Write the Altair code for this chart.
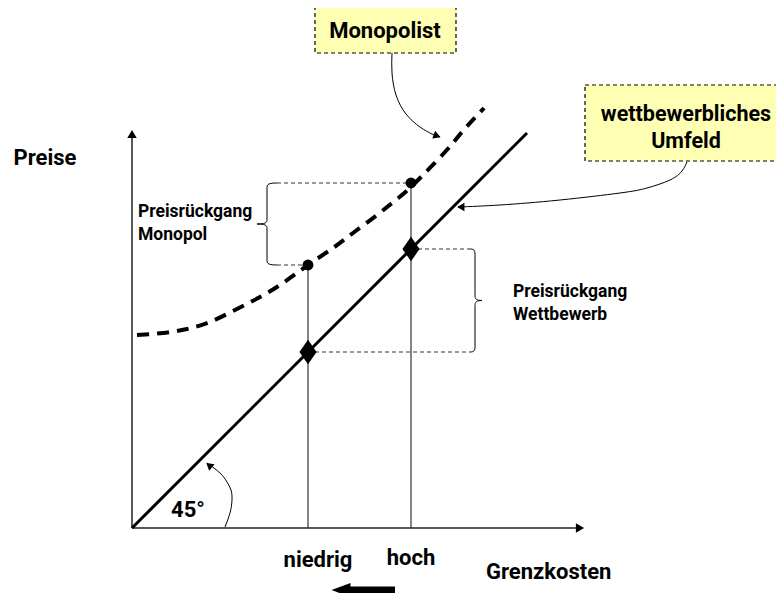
import altair as alt
import pandas as pd

# ---------------- values (chart units; origin = crossing of the axes) ----------------
# x = Grenzkosten, y = Preise
cost_levels = [176, 279]                  # niedrig, hoch
cost_labels = ["niedrig", "hoch"]
comp_prices = [176, 279]                  # wettbewerbliches Umfeld: Preis = Grenzkosten (45°)
mono_prices = [263, 345]                  # Monopolist

comp_line_x = [0, 395]
comp_line_y = [0, 395]

mono_curve_x = [5, 31, 55, 78, 103, 128, 151, 176, 201, 221, 245, 265, 281, 313, 330, 352]
mono_curve_y = [193, 195, 199, 206, 218, 231, 245, 263, 280, 295, 313, 329, 343, 376, 396, 420]

axis_x_end = [446]
axis_y_end = [392]

# annotation anchors
brace_mono_x = [135]
brace_mono_x_end = [145]
brace_comp_x = [343]
brace_comp_x_end = [338]

label_mono_xy = [(6, 316), (6, 293)]
label_mono_txt = ["Preisrückgang", "Monopol"]
label_comp_xy = [(381, 236), (381, 213)]
label_comp_txt = ["Preisrückgang", "Wettbewerb"]

box_mono = [183, 324, 475, 521]           # x, x2, y, y2
box_mono_txt = ["Monopolist"]
box_mono_txt_xy = [(253, 497)]
box_comp = [453, 660, 367, 443]
box_comp_txt = ["wettbewerbliches", "Umfeld"]
box_comp_txt_xy = [(554, 413), (554, 386)]

arrow_mono_x = [260, 260, 264, 274, 288, 300, 308]
arrow_mono_y = [475, 455, 433, 414, 401, 394, 391]
arrow_comp_x = [555, 550, 538, 515, 488, 428, 368, 326]
arrow_comp_y = [366, 357, 348, 340, 335, 328, 323, 321]
arc45_x = [93, 98, 100, 99, 95, 88, 75]
arc45_y = [1, 15, 28, 38, 46, 55, 65]

axis_titles = ["Preise", "Grenzkosten"]
axis_titles_xy = [(-87, 370), (354, -44)]
cost_labels_xy = [(186, -32), (279, -30)]
angle_label = ["45°"]
angle_label_xy = [(56, 18)]
shift_arrow_x = [263, 215]
shift_arrow_y = [-62, -62]

# ---------------- chart ----------------
FONT = "Roboto, Liberation Sans, sans-serif"
XS = alt.Scale(domain=[-124, 644], nice=False, zero=False)
YS = alt.Scale(domain=[-65, 520], nice=False, zero=False)
X = alt.X("x:Q", scale=XS, axis=None)
Y = alt.Y("y:Q", scale=YS, axis=None)


def line(xs, ys, **mark):
    df = pd.DataFrame({"x": xs, "y": ys, "i": list(range(len(xs)))})
    return alt.Chart(df).mark_line(**mark).encode(x=X, y=Y, order="i:Q")


def pts(xs, ys, **mark):
    df = pd.DataFrame({"x": xs, "y": ys})
    return alt.Chart(df).mark_point(**mark).encode(x=X, y=Y)


def texts(xy, txt, **mark):
    df = pd.DataFrame({"x": [p[0] for p in xy], "y": [p[1] for p in xy], "t": txt})
    return alt.Chart(df).mark_text(font=FONT, fontWeight="bold", color="black",
                                   baseline="middle", **mark).encode(x=X, y=Y, text="t:N")


def box(b, **mark):
    df = pd.DataFrame({"x": [b[0]], "x2": [b[1]], "y": [b[2]], "y2": [b[3]]})
    return alt.Chart(df).mark_rect(**mark).encode(x=X, x2="x2:Q", y=Y, y2="y2:Q")


def brace_path(end, tip):
    # vertical curly brace, spine at x=0, ends at x=end, point at x=tip
    return (f"M{end},-1 C{end*0.2},-1 0,-0.97 0,-0.9 L0,-0.1 C0,-0.03 {tip*0.2},0 {tip},0 "
            f"C{tip*0.2},0 0,0.03 0,0.1 L0,0.9 C0,0.97 {end*0.2},1 {end},1")


layers = []

# boxes
layers.append(box(box_mono, fill="#ffffb4", stroke="black", strokeDash=[4, 3], strokeWidth=1.2))
layers.append(box(box_comp, fill="#ffffb4", stroke="black", strokeDash=[4, 3], strokeWidth=1.2))

# axes
layers.append(line([0, 0], [0, axis_y_end[0]], color="#222", strokeWidth=1.5))
layers.append(line([0, axis_x_end[0]], [0, 0], color="#222", strokeWidth=1.5))
layers.append(pts([0], [axis_y_end[0] + 2], shape="triangle-up", size=90, filled=True, color="black", opacity=1))
layers.append(pts([axis_x_end[0] + 2], [0], shape="triangle-right", size=90, filled=True, color="black", opacity=1))

# verticals at cost levels
for c, p in zip(cost_levels, mono_prices):
    layers.append(line([c, c], [0, p], color="#333", strokeWidth=1.2))

# dotted guides
span_m = mono_prices[1] - mono_prices[0]
span_c = comp_prices[1] - comp_prices[0]
layers.append(line([brace_mono_x_end[0], cost_levels[1]], [mono_prices[1]] * 2, color="#333", strokeWidth=1, strokeDash=[4, 3]))
layers.append(line([brace_mono_x_end[0], cost_levels[0]], [mono_prices[0]] * 2, color="#333", strokeWidth=1, strokeDash=[4, 3]))
layers.append(line([cost_levels[1], brace_comp_x_end[0]], [comp_prices[1]] * 2, color="#333", strokeWidth=1, strokeDash=[4, 3]))
layers.append(line([cost_levels[0], brace_comp_x_end[0]], [comp_prices[0]] * 2, color="#333", strokeWidth=1, strokeDash=[4, 3]))

# braces
layers.append(pts(brace_mono_x, [(mono_prices[0] + mono_prices[1]) / 2],
                  shape=brace_path((brace_mono_x_end[0] - brace_mono_x[0]) / (span_m / 2), -10 / (span_m / 2)),
                  size=span_m ** 2, filled=False, color="black", strokeWidth=1, opacity=1))
layers.append(pts(brace_comp_x, [(comp_prices[0] + comp_prices[1]) / 2],
                  shape=brace_path((brace_comp_x_end[0] - brace_comp_x[0]) / (span_c / 2), 7 / (span_c / 2)),
                  size=span_c ** 2, filled=False, color="black", strokeWidth=1, opacity=1))

# curves
layers.append(line(comp_line_x, comp_line_y, color="black", strokeWidth=3))
layers.append(line(mono_curve_x, mono_curve_y, color="black", strokeWidth=4, strokeDash=[12, 8],
                   interpolate="natural"))

# markers
layers.append(pts(cost_levels, mono_prices, shape="circle", size=120, filled=True, color="black", opacity=1))
layers.append(pts(cost_levels, comp_prices, shape="M0,-1L0.7,0L0,1L-0.7,0Z", size=600, filled=True,
                  color="black", opacity=1))

# annotation arrows
layers.append(line(arrow_mono_x, arrow_mono_y, color="black", strokeWidth=1, interpolate="natural"))
layers.append(pts([arrow_mono_x[-1] - 4], [arrow_mono_y[-1] + 1.5], shape="triangle", angle=110, size=70,
                  filled=True, color="black", opacity=1))
layers.append(line(arrow_comp_x, arrow_comp_y, color="black", strokeWidth=1, interpolate="natural"))
layers.append(pts([arrow_comp_x[-1] + 4], [arrow_comp_y[-1]], shape="triangle", angle=270, size=70,
                  filled=True, color="black", opacity=1))
layers.append(line(arc45_x, arc45_y, color="black", strokeWidth=1, interpolate="natural"))
layers.append(pts([arc45_x[-1] + 3], [arc45_y[-1] - 3], shape="triangle", angle=310, size=70,
                  filled=True, color="black", opacity=1))

# shift arrow (Grenzkosten sinken)
layers.append(line(shift_arrow_x, shift_arrow_y, color="black", strokeWidth=7))
layers.append(pts([shift_arrow_x[-1] - 6], [shift_arrow_y[-1]], shape="M-1,0L1,-0.75L1,0.75Z", size=361,
                  filled=True, color="black", opacity=1))

# texts
layers.append(texts(label_mono_xy, label_mono_txt, fontSize=17.5, align="left"))
layers.append(texts(label_comp_xy, label_comp_txt, fontSize=17.5, align="left"))
layers.append(texts(box_mono_txt_xy, box_mono_txt, fontSize=22, align="center"))
layers.append(texts(box_comp_txt_xy, box_comp_txt, fontSize=21.5, align="center"))
layers.append(texts([axis_titles_xy[0]], [axis_titles[0]], fontSize=22, align="center"))
layers.append(texts([axis_titles_xy[1]], [axis_titles[1]], fontSize=22, align="left"))
layers.append(texts(cost_labels_xy, cost_labels, fontSize=22, align="center"))
layers.append(texts(angle_label_xy, angle_label, fontSize=22, align="center"))

chart = alt.layer(*layers).properties(
    width=768, height=585, autosize="none", padding=0
).configure_view(stroke=None)

chart.save("out.html", embed_options={"renderer": "svg", "actions": False})
